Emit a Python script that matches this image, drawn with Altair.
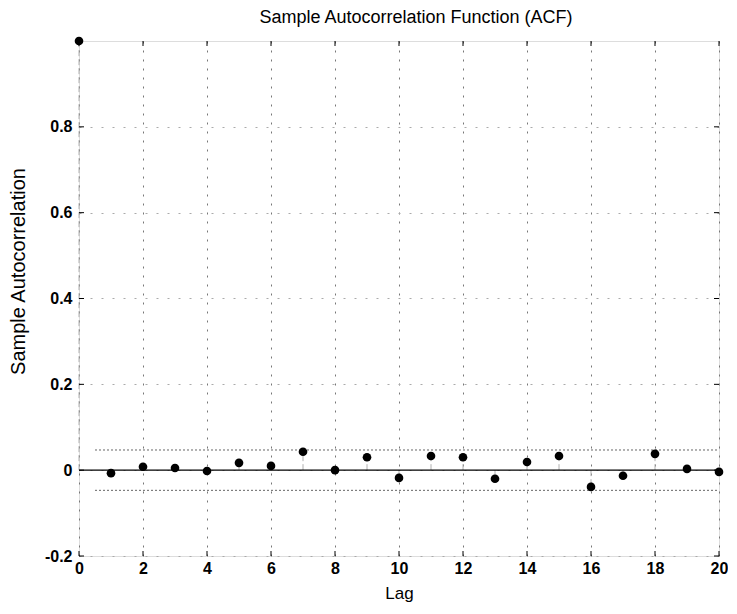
import altair as alt
import pandas as pd

lags = list(range(0, 21))
acf = [1.0, -0.007, 0.008, 0.005, -0.002, 0.017, 0.010, 0.043, 0.000, 0.030,
       -0.018, 0.033, 0.030, -0.020, 0.019, 0.033, -0.039, -0.013, 0.038, 0.003, -0.004]
bound = 0.047
x_ticks = [0, 2, 4, 6, 8, 10, 12, 14, 16, 18, 20]
y_ticks = [-0.2, 0, 0.2, 0.4, 0.6, 0.8]

W, H = 640, 515
XMIN, XMAX = 0, 20
YMIN, YMAX = -0.2, 1.0
font = "Liberation Sans"

df = pd.DataFrame({"lag": lags, "acf": acf, "zero": [0.0] * len(lags)})
bounds_df = pd.DataFrame({"y": [bound, -bound], "x1": [0.5, 0.5], "x2": [20, 20]})
zero_df = pd.DataFrame({"y": [0.0], "x1": [XMIN], "x2": [XMAX]})

xs = alt.Scale(domain=[XMIN, XMAX], nice=False, zero=False)
ys = alt.Scale(domain=[YMIN, YMAX], nice=False, zero=False)

xaxis = alt.Axis(values=x_ticks, format="d", ticks=False, labelPadding=4,
                 grid=True, gridColor="#777", gridDash=[2, 7], gridWidth=1,
                 domain=False, labelFontSize=16, labelFont=font, labelFontWeight="bold",
                 labelColor="#000", title="Lag", titleFontSize=17, titleFont=font,
                 titleFontWeight="normal", titleColor="#000", titlePadding=9,
                 labelFlush=False)
yaxis = alt.Axis(values=y_ticks, ticks=False, labelPadding=7,
                 labelExpr="datum.value == 0 ? '0' : (datum.value < 0 ? '-' + format(-datum.value, '.1f') : format(datum.value, '.1f'))",
                 grid=True, gridColor="#aaa", gridDash=[2, 9], gridWidth=1,
                 domain=False, labelFontSize=16, labelFont=font, labelFontWeight="bold",
                 labelColor="#000", title="Sample Autocorrelation", titleFontSize=20,
                 titleFont=font, titleFontWeight="normal", titleColor="#000",
                 titlePadding=16, titleY=230, labelFlush=False)

base = alt.Chart(df)

stems = base.mark_rule(color="#b0b0b0", strokeWidth=1, strokeDash=[6, 3]).encode(
    x=alt.X("lag:Q", scale=xs, axis=xaxis),
    y=alt.Y("zero:Q", scale=ys, axis=yaxis),
    y2="acf:Q",
)

zero_line = alt.Chart(zero_df).mark_rule(color="#000", strokeWidth=1.2).encode(
    x=alt.X("x1:Q", scale=xs), x2="x2:Q", y=alt.Y("y:Q", scale=ys)
)

bounds = alt.Chart(bounds_df).mark_rule(color="#666", strokeWidth=1, strokeDash=[2, 2]).encode(
    x=alt.X("x1:Q", scale=xs), x2="x2:Q", y=alt.Y("y:Q", scale=ys)
)

points = base.mark_circle(color="#000", opacity=1, size=75).encode(
    x=alt.X("lag:Q", scale=xs), y=alt.Y("acf:Q", scale=ys)
)

# inward ticks
tx = 5 * (XMAX - XMIN) / W
ty = 5 * (YMAX - YMIN) / H
xt_df = pd.DataFrame({"x": x_ticks})
yt_df = pd.DataFrame({"y": y_ticks})
xt_bottom = alt.Chart(xt_df).transform_calculate(a=str(YMIN), b=str(YMIN + ty)).mark_rule(color="#000").encode(
    x=alt.X("x:Q", scale=xs), y=alt.Y("a:Q", scale=ys), y2="b:Q")
xt_top = alt.Chart(xt_df).transform_calculate(a=str(YMAX), b=str(YMAX - ty)).mark_rule(color="#000").encode(
    x=alt.X("x:Q", scale=xs), y=alt.Y("a:Q", scale=ys), y2="b:Q")
yt_left = alt.Chart(yt_df).transform_calculate(a=str(XMIN), b=str(XMIN + tx)).mark_rule(color="#000").encode(
    y=alt.Y("y:Q", scale=ys), x=alt.X("a:Q", scale=xs), x2="b:Q")
yt_right = alt.Chart(yt_df).transform_calculate(a=str(XMAX), b=str(XMAX - tx)).mark_rule(color="#000").encode(
    y=alt.Y("y:Q", scale=ys), x=alt.X("a:Q", scale=xs), x2="b:Q")

chart = alt.layer(stems, zero_line, bounds, xt_bottom, xt_top, yt_left, yt_right, points).properties(
    width=W, height=H,
    padding={"left": 0, "top": 0, "right": 0, "bottom": 4},
    title=alt.TitleParams("Sample Autocorrelation Function (ACF)", fontSize=18, font=font,
                          fontWeight="normal", color="#000", offset=10, anchor="middle",
                          dx=17),
).configure_view(stroke="#000", strokeWidth=1.2).configure(background="white")

chart.save("out.html", embed_options={"renderer": "svg", "actions": False})
